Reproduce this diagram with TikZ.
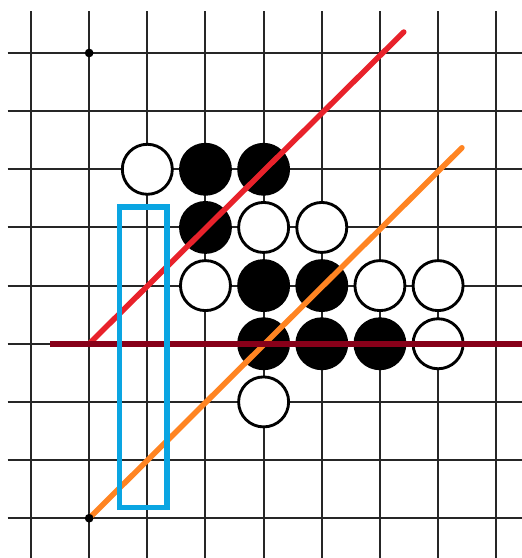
\documentclass[tikz,border=0pt]{standalone}
\usepackage{xcolor}
\usepackage{tikz}
\usetikzlibrary{positioning}

\definecolor{redline}{HTML}{E8222B}
\definecolor{orangeline}{HTML}{FF8422}
\definecolor{darkline}{HTML}{870019}
\definecolor{boxblue}{HTML}{0AA5E2}

\begin{document}
\begin{tikzpicture}[
    grid/.style={line width=1pt, black!85},
    stone/.style={circle, draw=black, line width=1.4pt, minimum size=0.86cm, inner sep=0pt},
    whitestone/.style={stone, fill=white},
    blackstone/.style={stone, fill=black},
    hoshi/.style={circle, fill=black, minimum size=0.15cm, inner sep=0pt},
    markline/.style={line width=2.7pt, line cap=round}
]
\useasboundingbox (-0.533,0.911) rectangle (8.426,-8.684);
% board
\foreach \r in {0,...,8}
  \draw [grid] (-0.4,-\r) -- (8.5,-\r);
\foreach \c in {0,...,8}
  \draw [grid] (\c,0.72) -- (\c,-8.8);
% stones
\foreach \c/\r in {2/2, 4/3, 5/3, 3/4, 6/4, 7/4, 7/5, 4/6}
  \node (w\c\r) [whitestone] at (\c,-\r) {};
\foreach \c/\r in {3/2, 4/2, 3/3, 4/4, 5/4, 4/5, 5/5, 6/5}
  \node (b\c\r) [blackstone] at (\c,-\r) {};
% marked lines
\coordinate (redstart) at (1,-5);
\coordinate (redend) at (6.41,0.36);
\coordinate (orangestart) at (1,-8);
\coordinate (orangeend) at (7.41,-1.63);
\coordinate (darkstart) at (0.33,-5);
\coordinate (darkend) at (8.6,-5);
\coordinate (boxtop) at (1.52,-2.65);
\coordinate (boxbottom) at (2.34,-7.81);
\draw [markline, redline] (redstart) -- (redend);
\draw [markline, orangeline] (orangestart) -- (orangeend);
\draw [markline, darkline, line width=2.8pt, line cap=butt] (darkstart) -- (darkend);
\draw [boxblue, line width=2.6pt] (boxtop) rectangle (boxbottom);
\node (hoshiA) [hoshi] at (1,0) {};
\node (hoshiB) [hoshi] at (orangestart) {};
\end{tikzpicture}
\end{document}
